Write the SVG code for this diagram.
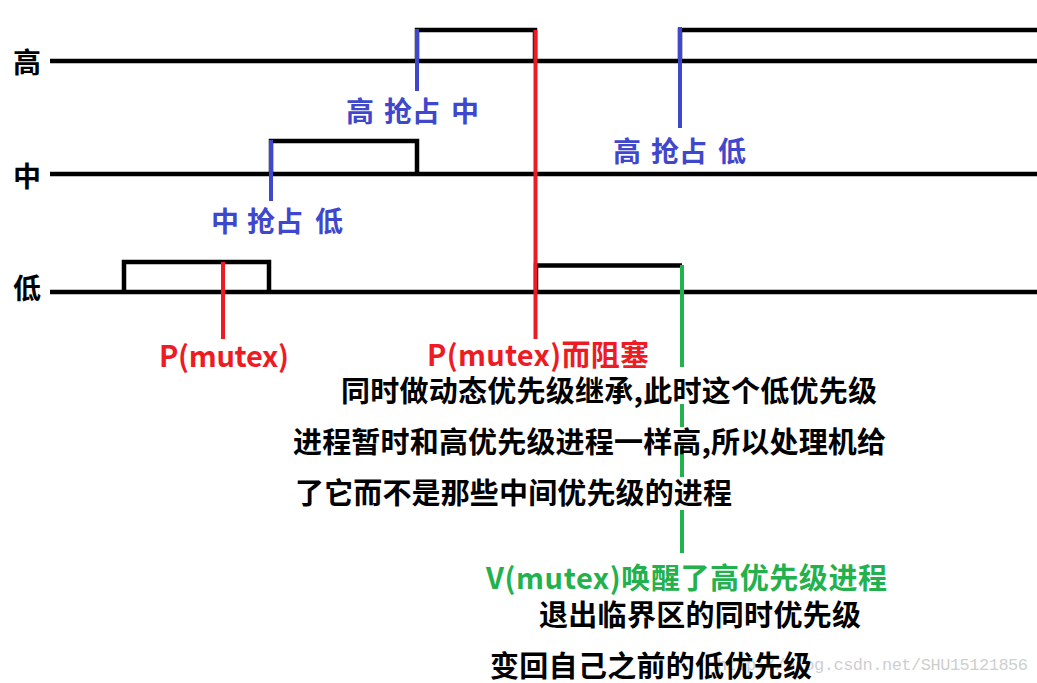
<svg xmlns="http://www.w3.org/2000/svg" width="1037" height="683" viewBox="0 0 1037 683">
<style>
.bg{fill:#ffffff}
.ln{fill:none;stroke:#000;stroke-width:4.5;stroke-linecap:butt;stroke-linejoin:miter}
.blue{stroke:#3f48cc;stroke-width:4;fill:none}
.red{stroke:#ed1c24;stroke-width:4;fill:none}
.green{stroke:#22b14c;stroke-width:4;fill:none}
.t{font-family:"Noto Sans CJK SC","Noto Sans",sans-serif;font-weight:bold}
.lvl{font-size:28px;fill:#000}
.bl{font-size:28px;fill:#3f48cc}
.rd{font-size:29px;fill:#ed1c24}
.gr{font-size:29px;fill:#22b14c}
.bk{font-size:29px;fill:#000}
.wm{font-family:"Liberation Mono",monospace;font-size:17px;fill:#cfcfcf}
</style>
<rect class="bg" x="0" y="0" width="1037" height="683"/>
<text class="wm" x="717" y="670" textLength="311">http://blog.csdn.net/SHU15121856</text>
<g id="levels">
<g id="level-high"><text class="t lvl" x="13" y="73">高</text><line class="ln" x1="50" y1="61" x2="1037" y2="61"/></g>
<g id="level-mid"><text class="t lvl" x="13" y="187">中</text><line class="ln" x1="50" y1="174" x2="1037" y2="174"/></g>
<g id="level-low"><text class="t lvl" x="13" y="299">低</text><line class="ln" x1="50" y1="292" x2="1037" y2="292"/></g>
</g>
<g id="pulses">
<polyline id="pulse-low1" class="ln" points="124,292 124,262 269,262 269,292"/>
<polyline id="pulse-mid" class="ln" points="271,174 271,141 417,141 417,174"/>
<polyline id="pulse-high1" class="ln" points="417,61 417,30 535,30 535,61"/>
<polyline id="pulse-low2" class="ln" points="536,292 536,265.5 682,265.5"/>
<polyline id="pulse-high2" class="ln" points="680,61 680,30 1037,30"/>
</g>
<g id="connectors">
<line class="blue" x1="271" y1="140" x2="271" y2="201"/>
<line class="blue" x1="417" y1="29" x2="417" y2="91"/>
<line class="blue" x1="680" y1="27" x2="680" y2="128"/>
<line class="red" x1="223" y1="262" x2="223" y2="339"/>
<line class="red" x1="535.5" y1="30" x2="535.5" y2="339"/>
<line class="green" x1="682" y1="265" x2="682" y2="367"/>
<line class="green" x1="682" y1="404" x2="682" y2="427"/>
<line class="green" x1="682" y1="445" x2="682" y2="477"/>
<line class="green" x1="682" y1="510" x2="682" y2="553"/>
</g>
<g id="label-mid-preempt-low"><text class="t bl" y="232"><tspan x="211">中</tspan> <tspan x="247">抢占</tspan> <tspan x="315">低</tspan></text></g>
<g id="label-high-preempt-mid"><text class="t bl" y="122"><tspan x="346">高</tspan> <tspan x="384">抢占</tspan> <tspan x="451">中</tspan></text></g>
<g id="label-high-preempt-low"><text class="t bl" y="162"><tspan x="613">高</tspan> <tspan x="651">抢占</tspan> <tspan x="718">低</tspan></text></g>
<g id="label-p1"><text class="t rd" x="159" y="367" textLength="130">P(mutex)</text></g>
<g id="label-p2"><text class="t rd" x="427" y="366" textLength="222">P(mutex)而阻塞</text></g>
<g id="note1">
<text class="t bk" x="341" y="402" textLength="536">同时做动态优先级继承,此时这个低优先级</text>
<text class="t bk" x="293" y="453" textLength="593">进程暂时和高优先级进程一样高,所以处理机给</text>
<text class="t bk" x="295" y="504" textLength="437">了它而不是那些中间优先级的进程</text>
</g>
<g id="label-v"><text class="t gr" x="486" y="589" textLength="401">V(mutex)唤醒了高优先级进程</text></g>
<g id="note2">
<text class="t bk" x="539" y="626" textLength="322">退出临界区的同时优先级</text>
<text class="t bk" x="490" y="677" textLength="322">变回自己之前的低优先级</text>
</g>
</svg>
